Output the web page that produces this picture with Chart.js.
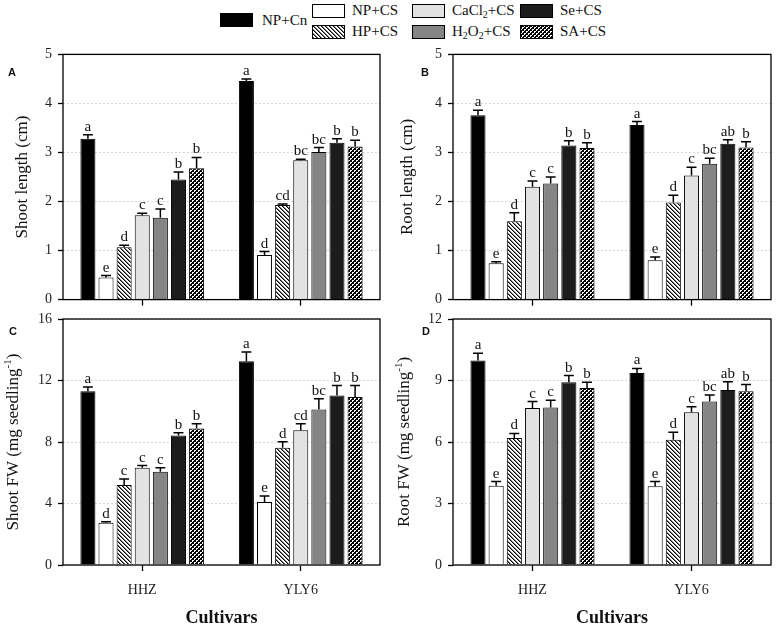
<!DOCTYPE html>
<html>
<head>
<meta charset="utf-8">
<script src="https://cdn.jsdelivr.net/npm/chart.js@4.4.0/dist/chart.umd.min.js"></script>
<style>
body { margin: 0; background: #fff; width: 777px; height: 626px; position: relative; overflow: hidden;
       font-family: "Liberation Serif", "Times New Roman", serif; }
canvas.panel { position: absolute; }
.lg { position: absolute; font-size: 15px; line-height: 15px; color: #111; white-space: nowrap; }
.lg sub { font-size: 10px; line-height: 0; vertical-align: -3px; }
.sw { position: absolute; }
</style>
</head>
<body>
<div id="legend"></div>
<canvas class="panel" id="cA" width="390" height="274" style="left:0;top:40px"></canvas>
<canvas class="panel" id="cB" width="387" height="274" style="left:390px;top:40px"></canvas>
<canvas class="panel" id="cC" width="390" height="326" style="left:0;top:300px"></canvas>
<canvas class="panel" id="cD" width="387" height="326" style="left:390px;top:300px"></canvas>
<script>
var cultivars = ['HHZ', 'YLY6'];
var treatments = ['NP+Cn', 'NP+CS', 'HP+CS', 'CaCl2+CS', 'H2O2+CS', 'Se+CS', 'SA+CS'];

// A: shoot length (cm), one pair [HHZ, YLY6] per treatment
var shootLen    = [[3.28, 4.46], [0.45, 0.91], [1.07, 1.93], [1.72, 2.84], [1.67, 3.01], [2.45, 3.20], [2.68, 3.12]];
var shootLenErr = [[0.08, 0.04], [0.04, 0.07], [0.04, 0.02], [0.04, 0.02], [0.18, 0.09], [0.15, 0.08], [0.22, 0.13]];
var shootLenSig = [['a', 'a'], ['e', 'd'], ['d', 'cd'], ['c', 'bc'], ['c', 'bc'], ['b', 'b'], ['b', 'b']];

// B: root length (cm)
var rootLen    = [[3.76, 3.56], [0.74, 0.80], [1.60, 1.98], [2.30, 2.53], [2.37, 2.77], [3.14, 3.18], [3.09, 3.10]];
var rootLenErr = [[0.10, 0.07], [0.03, 0.07], [0.17, 0.15], [0.12, 0.17], [0.13, 0.11], [0.10, 0.08], [0.11, 0.12]];
var rootLenSig = [['a', 'a'], ['e', 'e'], ['d', 'd'], ['c', 'c'], ['c', 'bc'], ['b', 'ab'], ['b', 'b']];

// C: shoot FW (mg seedling-1)
var shootFW    = [[11.3, 13.25], [2.75, 4.09], [5.2, 7.62], [6.32, 8.77], [6.06, 10.11], [8.42, 11.02], [8.88, 10.93]];
var shootFWErr = [[0.28, 0.6], [0.06, 0.39], [0.4, 0.39], [0.15, 0.41], [0.26, 0.7], [0.18, 0.65], [0.3, 0.74]];
var shootFWSig = [['a', 'a'], ['d', 'e'], ['c', 'd'], ['c', 'cd'], ['c', 'bc'], ['b', 'b'], ['b', 'b']];

// D: root FW (mg seedling-1)
var rootFW    = [[9.97, 9.37], [3.87, 3.84], [6.2, 6.11], [7.66, 7.45], [7.68, 7.97], [8.91, 8.54], [8.63, 8.47]];
var rootFWErr = [[0.36, 0.22], [0.2, 0.23], [0.22, 0.36], [0.31, 0.27], [0.36, 0.32], [0.33, 0.4], [0.28, 0.33]];
var rootFWSig = [['a', 'a'], ['e', 'e'], ['d', 'd'], ['c', 'c'], ['c', 'bc'], ['b', 'ab'], ['b', 'b']];

// fills: black, white, hatch, light grey, grey, near black, crosshatch
function tilePattern(size, isDark) {
    var c = document.createElement('canvas');
    c.width = size; c.height = size;
    var g = c.getContext('2d');
    var img = g.createImageData(size, size);
    for (var y = 0; y < size; y++) {
        for (var x = 0; x < size; x++) {
            var v = isDark(x, y);
            var k = (y * size + x) * 4;
            img.data[k] = img.data[k + 1] = img.data[k + 2] = v;
            img.data[k + 3] = 255;
        }
    }
    g.putImageData(img, 0, 0);
    return g.createPattern(c, 'repeat');
}
var hatch = tilePattern(4, function(x, y) {
    var d = (x - y + 4) % 4;
    return d === 0 ? 0 : (d === 1 ? 120 : 255);
});
var cross = tilePattern(4, function(x, y) {
    var w1 = (x < 2 && y < 2) && !(x === 1 && y === 1);
    var w2 = (x >= 2 && y >= 2) && !(x === 3 && y === 3);
    return (w1 || w2) ? 255 : 0;
});
var fills = ['#000000', '#ffffff', hatch, '#e2e2e2', '#858585', '#1c1c1c', cross];

// legend
var legendPos = [[220, 13, 262, 21], [312, 4, 352, 11], [312, 25, 352, 32], [412, 4, 452, 11],
                 [412, 25, 452, 32], [520, 4, 560, 11], [520, 25, 560, 32]];
var lg = document.getElementById('legend');
treatments.forEach(function(t, i) {
    var p = legendPos[i];
    var sw = document.createElement('canvas');
    sw.className = 'sw'; sw.width = 33; sw.height = 14;
    sw.style.left = p[0] + 'px'; sw.style.top = p[1] + 'px';
    var g = sw.getContext('2d');
    g.fillStyle = fills[i]; g.fillRect(0, 0, 33, 14);
    g.strokeStyle = '#000'; g.lineWidth = 1; g.strokeRect(0.5, 0.5, 32, 13);
    lg.appendChild(sw);
    var tx = document.createElement('div');
    tx.className = 'lg';
    tx.style.left = p[2] + 'px'; tx.style.top = (p[3] - 8) + 'px';
    tx.innerHTML = t.replace(/([A-Za-z])(\d)/g, '$1<sub>$2</sub>');
    lg.appendChild(tx);
});

// error bars, letters, frame, titles
var panelDeco = {
    id: 'panelDeco',
    afterDatasetsDraw: function(chart) {
        var ctx = chart.ctx, ys = chart.scales.y;
        ctx.save();
        chart.data.datasets.forEach(function(ds, i) {
            chart.getDatasetMeta(i).data.forEach(function(bar, j) {
                var top = ys.getPixelForValue(ds.data[j] + ds.errors[j]);
                var cap = bar.width * 0.33;
                ctx.strokeStyle = '#000';
                ctx.lineWidth = 1.5;
                ctx.beginPath();
                ctx.moveTo(bar.x, bar.y);
                ctx.lineTo(bar.x, top);
                ctx.moveTo(bar.x - cap, top);
                ctx.lineTo(bar.x + cap, top);
                ctx.stroke();
                ctx.fillStyle = '#111';
                ctx.font = '15px "Liberation Serif"';
                ctx.textAlign = 'center';
                ctx.textBaseline = 'alphabetic';
                ctx.fillText(ds.letters[j], bar.x, top - 4);
            });
        });
        ctx.restore();
    },
    afterDraw: function(chart, args, o) {
        var ctx = chart.ctx, a = chart.chartArea;
        ctx.save();
        ctx.strokeStyle = '#000';
        ctx.lineWidth = 1.3;
        ctx.strokeRect(a.left, a.top, a.right - a.left, a.bottom - a.top);

        ctx.fillStyle = '#111';
        ctx.font = 'bold 11px "Liberation Sans"';
        ctx.textAlign = 'center';
        ctx.textBaseline = 'middle';
        ctx.fillText(o.letter, o.letterX, o.letterY);

        // y title, with optional superscript
        var main = '17px "Liberation Serif"', small = '11px "Liberation Serif"';
        ctx.font = main;
        var w1 = ctx.measureText(o.title[0]).width;
        var w3 = o.title[2] ? ctx.measureText(o.title[2]).width : 0;
        ctx.font = small;
        var w2 = o.title[1] ? ctx.measureText(o.title[1]).width : 0;
        var total = w1 + w2 + w3;
        ctx.translate(o.titleX, (a.top + a.bottom) / 2);
        ctx.rotate(-Math.PI / 2);
        ctx.textAlign = 'left';
        ctx.font = main;
        ctx.fillText(o.title[0], -total / 2, 0);
        if (o.title[1]) {
            ctx.font = small;
            ctx.fillText(o.title[1], -total / 2 + w1, -6);
            ctx.font = main;
            ctx.fillText(o.title[2], -total / 2 + w1 + w2, 0);
        }
        ctx.restore();

        if (o.xTitle) {
            ctx.save();
            ctx.fillStyle = '#111';
            ctx.font = 'bold 18px "Liberation Serif"';
            ctx.textAlign = 'center';
            ctx.textBaseline = 'middle';
            ctx.fillText(o.xTitle, (a.left + a.right) / 2, 318);
            ctx.restore();
        }
    }
};

function makePanel(id, values, errs, sigs, yMax, yStep, deco, xHeight, padRight, showLabels) {
    var datasets = treatments.map(function(t, i) {
        return {
            label: t,
            data: values[i],
            errors: errs[i],
            letters: sigs[i],
            backgroundColor: fills[i],
            borderColor: '#000',
            borderWidth: 1,
            categoryPercentage: 0.8,
            barPercentage: 0.83
        };
    });
    return new Chart(document.getElementById(id), {
        type: 'bar',
        data: { labels: cultivars, datasets: datasets },
        options: {
            responsive: false,
            animation: false,
            devicePixelRatio: 1,
            layout: { padding: { top: deco.top, right: padRight, left: 0, bottom: 0 } },
            plugins: { legend: { display: false }, tooltip: { enabled: false }, panelDeco: deco },
            scales: {
                x: {
                    grid: { display: true, drawOnChartArea: false, drawTicks: true, tickLength: 6,
                            tickColor: '#000', tickWidth: 1.3, offset: false },
                    border: { display: false },
                    ticks: {
                        color: '#222', padding: 11,
                        font: { family: 'Liberation Serif', size: 14 },
                        callback: function(v, i) { return showLabels ? cultivars[i] : ''; }
                    },
                    afterFit: function(s) { s.height = xHeight; }
                },
                y: {
                    min: 0, max: yMax,
                    grid: { color: '#d6d6d6', lineWidth: 1, drawTicks: true, tickLength: 5,
                            tickColor: '#000', tickWidth: 1.3, tickBorderDash: [] },
                    border: { display: false, dash: [2, 2] },
                    ticks: { stepSize: yStep, color: '#222', padding: 6,
                             font: { family: 'Liberation Serif', size: 14 } },
                    afterFit: function(s) { s.width = 63; }
                }
            }
        },
        plugins: [panelDeco]
    });
}

makePanel('cA', shootLen, shootLenErr, shootLenSig, 5, 1,
    { top: 13, letter: 'A', letterX: 12, letterY: 33, titleX: 23, title: ['Shoot length (cm)'] }, 11, 10, false);
makePanel('cB', rootLen, rootLenErr, rootLenSig, 5, 1,
    { top: 13, letter: 'B', letterX: 35, letterY: 33, titleX: 18, title: ['Root length (cm)'] }, 11, 6, false);
makePanel('cC', shootFW, shootFWErr, shootFWSig, 16, 4,
    { top: 19, letter: 'C', letterX: 13, letterY: 32, titleX: 14, title: ['Shoot FW (mg seedling', '-1', ')'], xTitle: 'Cultivars' }, 61, 10, true);
makePanel('cD', rootFW, rootFWErr, rootFWSig, 12, 3,
    { top: 19, letter: 'D', letterX: 36, letterY: 32, titleX: 15, title: ['Root FW (mg seedling', '-1', ')'], xTitle: 'Cultivars' }, 61, 6, true);
</script>
</body>
</html>
